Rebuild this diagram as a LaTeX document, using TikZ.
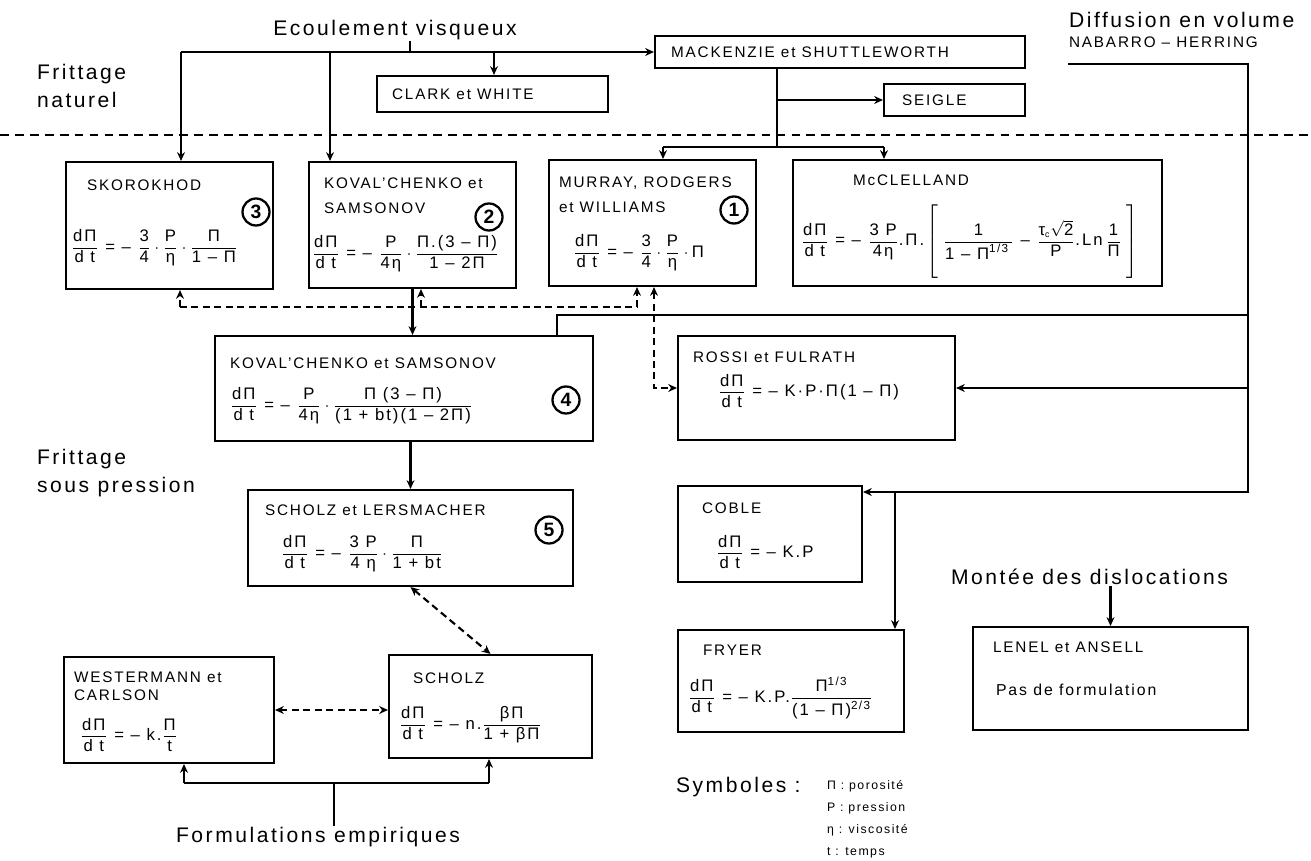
\documentclass[tikz,border=0pt]{standalone}
\usepackage{fontspec}
\setmainfont{Liberation Sans}
\newfontfamily\espace[LetterSpace=12]{Liberation Sans}
\usetikzlibrary{arrows.meta}
\newcommand\fr[2]{\frac{\hbox{#1}}{\hbox{#2}}}

\begin{document}
\begin{tikzpicture}[x=0.02cm, y=-0.02cm, line width=1.2pt, >={Stealth[length=5pt,width=4.5pt]},
  boite/.style={draw, line width=1.2pt, inner sep=0pt},
  titre/.style={anchor=west, inner sep=0pt, align=left, font=\espace\fontsize{8.7}{14}\selectfont},
  formule/.style={anchor=west, inner sep=0pt, font=\espace\fontsize{9.5}{11}\selectfont},
  rond/.style={circle, draw, line width=1.3pt, inner sep=0pt, minimum size=0.54cm, font=\bfseries\fontsize{11}{11}\selectfont},
  grand/.style={inner sep=0pt, align=left, font=\espace\fontsize{12}{16}\selectfont},
  legende/.style={inner sep=0pt, align=left, font=\espace\fontsize{7}{12.5}\selectfont},
  pointille/.style={dash pattern=on 4pt off 2.5pt}]
  \useasboundingbox (0,0) rectangle (1311,861);

  % section labels
  \node[grand] (ecoul) at (395,30) {Ecoulement visqueux};
  \node[grand, anchor=west] (naturel) at (36,86) {Frittage\\naturel};
  \node[grand, anchor=west] (diffus) at (1068,20) {Diffusion en volume};
  \node[titre] (nabarro) at (1068,42) {NABARRO – HERRING};
  \node[grand, anchor=west] (pression) at (36,473) {Frittage\\sous pression};
  \node[grand, anchor=west] (montee) at (950,577) {Montée des dislocations};
  \node[grand, anchor=west] (empir) at (175,837) {Formulations empiriques};

  % separator between the two kinds of sintering
  \coordinate (sep0) at (0,135);
  \coordinate (sep1) at (1311,135);
  \draw[line width=1pt, dash pattern=on 5pt off 3.5pt] (sep0) -- (sep1);

  % top row
  \node[boite, minimum width=7.4cm, minimum height=0.64cm] (mack) at (840,52) {};
  \node[titre] (mackT) at (670,52) {MACKENZIE et SHUTTLEWORTH};
  \node[boite, minimum width=4.62cm, minimum height=0.72cm] (clark) at (492.5,94) {};
  \node[titre] (clarkT) at (391,94) {CLARK et WHITE};
  \node[boite, minimum width=2.82cm, minimum height=0.64cm] (seigle) at (954.5,100) {};
  \node[titre] (seigleT) at (901,100) {SEIGLE};

  % natural sintering models
  \node[boite, minimum width=4.14cm, minimum height=2.54cm] (skoro) at (169.5,225.5) {};
  \node[titre] (skoroT) at (86,185) {SKOROKHOD};
  \node[formule] (skoroF) at (70,248) {$\displaystyle\fr{dΠ}{d t}\hbox{ = – }\fr{3}{4}\cdot\fr{P}{η}\cdot\fr{Π}{1 – Π}$};
  \node[rond] (c3) at (256,212) {3};

  \node[boite, minimum width=4.14cm, minimum height=2.52cm] (koval2) at (412.5,225) {};
  \node[titre] (koval2T) at (323,195.5) {KOVAL’CHENKO et\\SAMSONOV};
  \node[formule] (koval2F) at (311,254) {$\displaystyle\fr{dΠ}{d t}\hbox{ = – }\fr{P}{4η}\cdot\fr{Π.(3 – Π)}{1 – 2Π}$};
  \node[rond] (c2) at (489,217) {2};

  \node[boite, minimum width=4.14cm, minimum height=2.52cm] (murray) at (652.5,223) {};
  \node[titre] (murrayT) at (558,195) {MURRAY, RODGERS\\et WILLIAMS};
  \node[formule] (murrayF) at (572,253) {$\displaystyle\fr{dΠ}{d t}\hbox{ = – }\fr{3}{4}\cdot\fr{P}{η}\cdot\hbox{Π}$};
  \node[rond] (c1) at (734,210) {1};

  \node[boite, minimum width=7.38cm, minimum height=2.52cm] (mccl) at (977.5,223) {};
  \node[titre] (mcclT) at (852,180) {McCLELLAND};
  \node[formule] (mcclF) at (800,243) {$\displaystyle\fr{dΠ}{d t}\hbox{ = – }\fr{3 P}{4η}\hbox{.Π.}\left[\rule[-20pt]{0pt}{42pt}\;\fr{1}{1 – Π\textsuperscript{1/3}\,}\hbox{ – }\frac{\hbox{τ}_{\hbox{\tiny c}}\sqrt{\hbox{2}}}{\hbox{P}}\hbox{.Ln\,}\fr{1}{Π}\;\right]$};

  % sintering under pressure
  \node[boite, minimum width=7.56cm, minimum height=2.1cm] (koval4) at (404,388.5) {};
  \node[titre] (koval4T) at (229,363) {KOVAL’CHENKO et SAMSONOV};
  \node[formule] (koval4F) at (229,406) {$\displaystyle\fr{dΠ}{d t}\hbox{ = – }\fr{P}{4η}\cdot\fr{Π (3 – Π)}{(1 + bt)(1 – 2Π)}$};
  \node[rond] (c4) at (566,400) {4};

  \node[boite, minimum width=5.54cm, minimum height=2.08cm] (rossi) at (816.5,388) {};
  \node[titre] (rossiT) at (692,357) {ROSSI et FULRATH};
  \node[formule] (rossiF) at (717,391) {$\displaystyle\fr{dΠ}{d t}\hbox{ = – K·P·Π(1 – Π)}$};

  \node[boite, minimum width=6.5cm, minimum height=1.92cm] (lersm) at (410.5,538) {};
  \node[titre] (lersmT) at (264,510) {SCHOLZ et LERSMACHER};
  \node[formule] (lersmF) at (280,554) {$\displaystyle\fr{dΠ}{d t}\hbox{ = – }\fr{3 P}{4 η}\cdot\fr{Π}{1 + bt}$};
  \node[rond] (c5) at (549,530) {5};

  \node[boite, minimum width=3.68cm, minimum height=1.92cm] (coble) at (770,534) {};
  \node[titre] (cobleT) at (701,508) {COBLE};
  \node[formule] (cobleF) at (715,552) {$\displaystyle\fr{dΠ}{d t}\hbox{ = – K.P}$};

  \node[boite, minimum width=4.2cm, minimum height=2.12cm] (westm) at (169,710) {};
  \node[titre, font=\espace\fontsize{8.7}{10.5}\selectfont] (westmT) at (73,686) {WESTERMANN et\\CARLSON};
  \node[formule] (westmF) at (79,735) {$\displaystyle\fr{dΠ}{d t}\hbox{ = – k.}\fr{Π}{t}$};

  \node[boite, minimum width=4.06cm, minimum height=2.06cm] (scholz) at (490.5,706.5) {};
  \node[titre] (scholzT) at (412,678) {SCHOLZ};
  \node[formule] (scholzF) at (398,725) {$\displaystyle\fr{dΠ}{d t}\hbox{ = – n.}\fr{βΠ}{1 + βΠ}$};

  \node[boite, minimum width=4.52cm, minimum height=2.04cm] (fryer) at (791,681) {};
  \node[titre] (fryerT) at (702,650) {FRYER};
  \node[formule] (fryerF) at (687,698) {$\displaystyle\fr{dΠ}{d t}\hbox{ = – K.P.}\fr{Π\textsuperscript{1/3}}{(1 – Π)\textsuperscript{2/3}}$};

  \node[boite, minimum width=5.5cm, minimum height=2.06cm] (lenel) at (1110.5,678.5) {};
  \node[titre] (lenelT) at (992,647) {LENEL et ANSELL};
  \node[titre, font=\espace\fontsize{9}{10}\selectfont] (lenelF) at (995,690) {Pas de formulation};

  % symbols
  \node[grand, anchor=west] (symb) at (675,787) {Symboles :};
  \node[legende, anchor=north west] (legende) at (826,779) {Π : porosité\\P : pression\\η : viscosité\\t : temps};

  % viscous flow branches
  \coordinate (e0) at (410,52);
  \coordinate (e1) at (181,52);
  \coordinate (e2) at (330,52);
  \coordinate (e3) at (494,52);
  \draw (e0 |- ecoul.south) -- (e0);
  \draw[->] (e1) -- (mack.west);
  \draw[->] (e1) -- (e1 |- skoro.north);
  \draw[->] (e2) -- (e2 |- koval2.north);
  \draw[->] (e3) -- (e3 |- clark.north);

  \coordinate (m1) at (777,147);
  \coordinate (m2) at (663,147);
  \coordinate (m3) at (884,147);
  \draw (m1 |- mack.south) -- (m1);
  \draw[->] (m1 |- seigle.west) -- (seigle.west);
  \draw (m2) -- (m3);
  \draw[->] (m2) -- (m2 |- murray.north);
  \draw[->] (m3) -- (m3 |- mccl.north);

  % volume diffusion
  \coordinate (n0) at (1068,64);
  \coordinate (n1) at (1248,64);
  \coordinate (n2) at (1248,492);
  \coordinate (k0) at (557,315);
  \coordinate (f0) at (895,492);
  \draw[->] (n0) -- (n1) -- (n2) -- (n2 -| coble.east);
  \draw[->] (n1 |- rossi.east) -- (rossi.east);
  \draw (n1 |- k0) -- (k0) -- (k0 |- koval4.north);
  \draw[->] (f0) -- (f0 |- fryer.north);

  % pressure chain
  \draw[->] (koval2.south) -- (koval2.south |- koval4.north);
  \draw[->] (lersm.north |- koval4.south) -- (lersm.north);

  % dotted links between models
  \coordinate (d0) at (180,307);
  \coordinate (d1) at (637,307);
  \coordinate (d2) at (421,307);
  \coordinate (r0) at (654,388);
  \draw[pointille] (d0) -- (d1);
  \draw[pointille,->] (d0) -- (d0 |- skoro.south);
  \draw[pointille,->] (d2) -- (d2 |- koval2.south);
  \draw[pointille,->] (d1) -- (d1 |- murray.south);
  \draw[pointille,<->] (r0 |- murray.south) -- (r0) -- (rossi.west);
  \draw[pointille,<->] (lersm.south) -- (scholz.north);
  \draw[pointille,<->] (westm.east) -- (westm.east -| scholz.west);

  % empirical formulations
  \coordinate (fe) at (334,783);
  \coordinate (fw) at (184,783);
  \coordinate (fs) at (489,783);
  \draw (fe) -- (fe |- empir.north);
  \draw (fw) -- (fs);
  \draw[->] (fw) -- (fw |- westm.south);
  \draw[->] (fs) -- (fs |- scholz.south);

  % climb of dislocations
  \draw[->] (lenel.north |- montee.south) -- (lenel.north);
\end{tikzpicture}
\end{document}
